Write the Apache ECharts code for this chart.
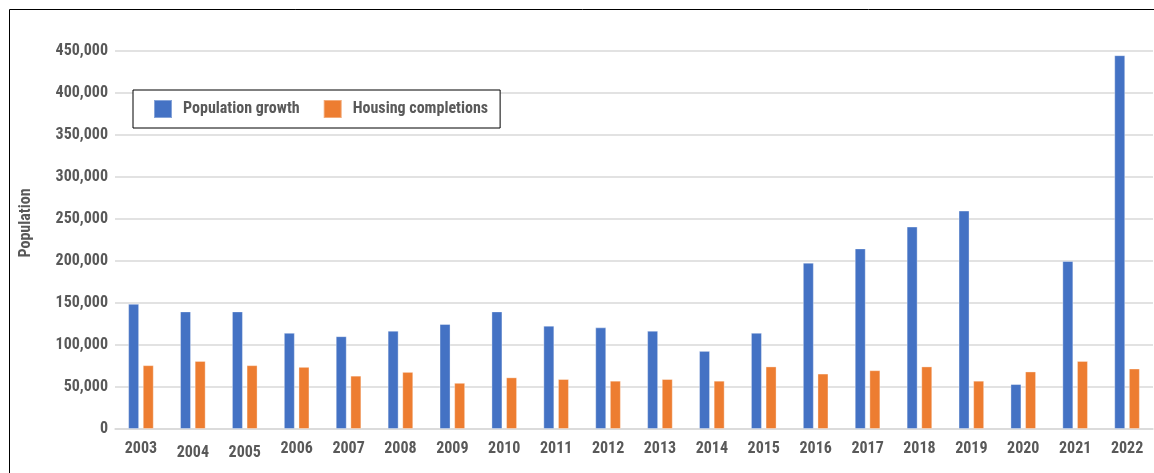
<!DOCTYPE html>
<html>
<head>
<meta charset="utf-8">
<script src="https://cdn.jsdelivr.net/npm/echarts@6/dist/echarts.min.js"></script>
<style>
html,body{margin:0;padding:0;background:#fff;}
#chart{width:1154px;height:473px;}
</style>
</head>
<body>
<div id="chart"></div>
<script>
const years = ['2003','2004','2005','2006','2007','2008','2009','2010','2011','2012','2013','2014','2015','2016','2017','2018','2019','2020','2021','2022'];
const populationGrowth = [149000,140000,140000,114500,110500,117000,125000,140000,123000,121000,117000,93000,114500,198000,215000,241000,260000,53500,200000,445000];
const housingCompletions = [76000,81000,76000,74000,63500,68000,55000,61500,59500,57500,59500,57500,74500,66000,70000,74500,57500,68500,81000,72000];
const seriesNames = ['Population growth','Housing completions'];
const yAxisTitle = 'Population';

const FONT = "'Roboto Condensed', 'Open Sans Condensed', 'DejaVu Sans Condensed', sans-serif";
const TEXT = '#595959';
const loweredLabels = new Set(['2004', '2005']);
const chart = echarts.init(document.getElementById('chart'));
chart.setOption({
  animation: false,
  backgroundColor: '#fff',
  graphic: [{
    type: 'rect', silent: true, z: 100,
    shape: {x: 9.5, y: 9.5, width: 1300, height: 700},
    style: {fill: 'none', stroke: '#000', lineWidth: 1}
  }, {
    type: 'text', silent: true, x: 26, y: 223, rotation: Math.PI / 2,
    style: {text: yAxisTitle, fill: TEXT, font: "bold 16px 'Roboto Condensed', sans-serif", align: 'center', verticalAlign: 'middle'}
  }],
  grid: {left: 115, right: 1, top: 51, bottom: 44, containLabel: false},
  legend: {
    left: 133, top: 90,
    orient: 'horizontal',
    data: seriesNames,
    icon: 'rect',
    itemWidth: 18, itemHeight: 18,
    itemGap: 23,
    padding: [9, 12, 9, 20],
    borderColor: '#000', borderWidth: 1,
    backgroundColor: '#fff',
    textStyle: {fontFamily: FONT, fontWeight: 'bold', fontSize: 16, color: TEXT, padding: [0, 0, 0, 6]}
  },
  xAxis: {
    type: 'category',
    data: years,
    axisLine: {show: true, lineStyle: {color: '#D9D9D9', width: 1.5}},
    axisTick: {show: false},
    axisLabel: {
      fontFamily: FONT, fontWeight: 'bold', fontSize: 16, color: TEXT, margin: 12, interval: 0,
      formatter: v => loweredLabels.has(v) ? '{low|' + v + '}' : v,
      rich: {low: {fontFamily: FONT, fontWeight: 'bold', fontSize: 16, color: TEXT, padding: [4, 0, 0, 0]}}
    }
  },
  yAxis: {
    type: 'value',
    min: 0, max: 450000, interval: 50000,
    axisLine: {show: false},
    axisTick: {show: false},
    splitLine: {lineStyle: {color: '#D9D9D9', width: 1.5}},
    axisLabel: {
      fontFamily: FONT, fontWeight: 'bold', fontSize: 16, color: TEXT, margin: 7,
      formatter: v => v.toLocaleString('en-US')
    }
  },
  series: [
    {name: seriesNames[0], type: 'bar', data: populationGrowth, barWidth: 11, barGap: '33%',
     itemStyle: {color: '#4472C4', borderColor: 'rgba(255,255,255,0.35)', borderWidth: 1}},
    {name: seriesNames[1], type: 'bar', data: housingCompletions, barWidth: 11, barGap: '33%',
     itemStyle: {color: '#ED7D31', borderColor: 'rgba(255,255,255,0.35)', borderWidth: 1}}
  ]
});
</script>
</body>
</html>
